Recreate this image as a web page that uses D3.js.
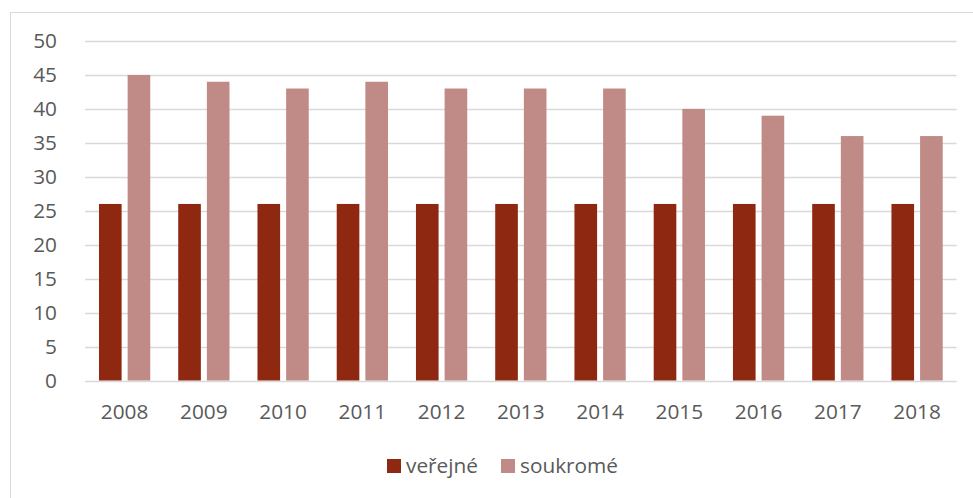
<!DOCTYPE html>
<html><head><meta charset="utf-8">
<script src="https://cdn.jsdelivr.net/npm/d3@7"></script>
<style>body{margin:0;background:#fff}svg{display:block}text{font-family:"Open Sans",sans-serif;fill:#595959}</style>
</head><body><svg id="c" width="973" height="498"></svg>
<script>
const years = ["2008","2009","2010","2011","2012","2013","2014","2015","2016","2017","2018"];
const seriesNames = ["veřejné","soukromé"];
const verejne = [26,26,26,26,26,26,26,26,26,26,26];
const soukrome = [45,44,43,44,43,43,43,40,39,36,36];
const yTicks = [0,5,10,15,20,25,30,35,40,45,50];
const colors = ["#8f2810","#c08b86"];

(function(){
const fs = 20.8;
const svg = d3.select("#c");
svg.append("rect").attr("x",10.5).attr("y",12.5).attr("width",1000).attr("height",600)
  .attr("fill","none").attr("stroke","#d9d9d9").attr("stroke-width",1);

const pLeft=85, pRight=956.7, pTop=41, pBottom=380.5;
const x0 = d3.scaleBand().domain(years).range([pLeft,pRight]).paddingInner(0.353).paddingOuter(0.1765);
const x1 = d3.scaleBand().domain(seriesNames).range([0,x0.bandwidth()]).paddingInner(0.21).paddingOuter(0);
const y = d3.scaleLinear().domain([0,50]).range([pBottom,pTop]);

svg.append("g").selectAll("line").data(yTicks).join("line")
  .attr("x1",pLeft).attr("x2",pRight)
  .attr("y1",d=>Math.round(y(d))+0.5).attr("y2",d=>Math.round(y(d))+0.5)
  .attr("stroke","#d9d9d9").attr("stroke-width",1.3);

const yAxis = d3.axisLeft(y).tickValues(yTicks).tickSize(0).tickPadding(0);
const ya = svg.append("g").attr("transform",`translate(57,0)`).call(yAxis);
ya.select(".domain").remove();
ya.selectAll("text").attr("font-size",fs).attr("fill","#595959").style("font-family","'Open Sans',sans-serif");

const data = years.map((yr,i)=>({yr, vals:[verejne[i],soukrome[i]]}));
const g = svg.append("g").selectAll("g").data(data).join("g")
  .attr("transform",d=>`translate(${x0(d.yr)},0)`);
g.selectAll("rect").data(d=>d.vals.map((v,j)=>({v,s:seriesNames[j],j}))).join("rect")
  .attr("x",d=>x1(d.s)).attr("width",x1.bandwidth())
  .attr("y",d=>y(d.v)).attr("height",d=>y(0)-y(d.v))
  .attr("fill",d=>colors[d.j]);

const xAxis = d3.axisBottom(x0).tickSize(0).tickPadding(0);
const xa = svg.append("g").attr("transform",`translate(0,419)`).call(xAxis);
xa.select(".domain").remove();
xa.selectAll("text").attr("font-size",fs).attr("fill","#595959").attr("dy",0).style("font-family","'Open Sans',sans-serif");

const legX = [387,501];
const leg = svg.append("g").selectAll("g").data(seriesNames).join("g")
  .attr("transform",(d,i)=>`translate(${legX[i]},459)`);
leg.append("rect").attr("width",14).attr("height",14).attr("fill",(d,i)=>colors[i]);
leg.append("text").attr("x",19).attr("y",14).attr("font-size",fs).text(d=>d);
})();
</script></body></html>
